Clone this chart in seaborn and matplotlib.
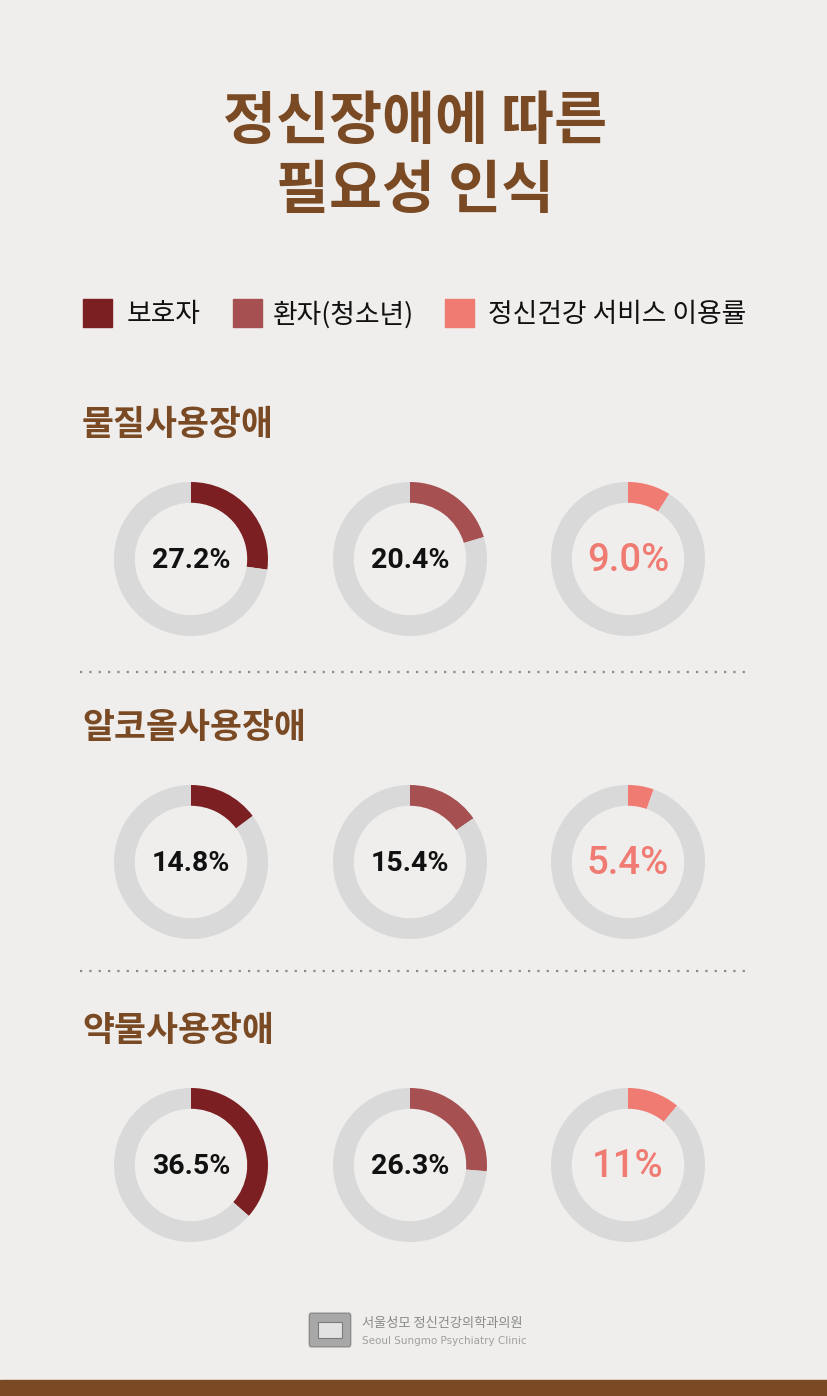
import matplotlib
matplotlib.use("Agg")
import matplotlib.pyplot as plt
import seaborn as sns
from matplotlib.patches import Rectangle, FancyBboxPatch
from matplotlib.lines import Line2D

sns.set_theme(style="white")
plt.rcParams['font.family'] = ['Noto Sans CJK KR', 'DejaVu Sans']

# ---- data ----
title_lines = ["정신장애에 따른", "필요성 인식"]
series = ["보호자", "환자(청소년)", "정신건강 서비스 이용률"]
categories = ["물질사용장애", "알코올사용장애", "약물사용장애"]
guardian = [27.2, 14.8, 36.5]
patient = [20.4, 15.4, 26.3]
service = [9.0, 5.4, 11.0]
value_labels = [["27.2%", "20.4%", "9.0%"],
                ["14.8%", "15.4%", "5.4%"],
                ["36.5%", "26.3%", "11%"]]
footer_kr = "서울성모 정신건강의학과의원"
footer_en = "Seoul Sungmo Psychiatry Clinic"

# ---- style ----
W, H = 828, 1396
BG = "#efeeec"
BROWN = "#7a4a24"
colors = ["#7b1f22", "#a65052", "#ef7b73"]
GRAY = "#d9d9d9"

fig = plt.figure(figsize=(W / 100, H / 100), dpi=100)
fig.patch.set_facecolor(BG)


def fx(x):
    return x / W


def fy(y):
    return 1 - y / H


# title
fig.text(fx(415), fy(122), title_lines[0], ha="center", va="center",
         fontsize=41.5, fontweight="bold", color=BROWN)
fig.text(fx(415), fy(191), title_lines[1], ha="center", va="center",
         fontsize=41.5, fontweight="bold", color=BROWN)

# legend
sq_x = [83, 233, 445]
txt_x = [127, 273, 488]
for i, name in enumerate(series):
    fig.patches.append(Rectangle((fx(sq_x[i]), fy(327)), 29 / W, 28 / H,
                                 transform=fig.transFigure, color=colors[i]))
    fig.text(fx(txt_x[i]), fy(315), name, ha="left", va="center",
             fontsize=19.3, color="#111111")

# sections
row_cy = [559, 862, 1165]
head_y = [424, 728, 1031]
col_cx = [191, 410, 628]
R = 77
data = [guardian, patient, service]
for r, cat in enumerate(categories):
    fig.text(fx(82), fy(head_y[r]), cat, ha="left", va="center",
             fontsize=25, fontweight="bold", color=BROWN)
    for c in range(3):
        v = data[c][r]
        cx, cy = col_cx[c], row_cy[r]
        ax = fig.add_axes([fx(cx - R), fy(cy + R), 2 * R / W, 2 * R / H])
        ax.set_facecolor("none")
        ax.pie([v, 100 - v], colors=[colors[c], GRAY], startangle=90,
               counterclock=False, radius=1,
               wedgeprops=dict(width=0.27, edgecolor="none", linewidth=0))
        ax.set_xlim(-1, 1)
        ax.set_ylim(-1, 1)
        ax.set_axis_off()
        lab = value_labels[r][c]
        if c == 2:
            ax.text(0, -0.02, lab, ha="center", va="center", fontsize=27.5,
                    fontweight="medium",
                    family=["Roboto", "DejaVu Sans"], color=colors[2])
        else:
            ax.text(0, -0.02, lab, ha="center", va="center", fontsize=20.5,
                    fontweight="bold", family=["Roboto", "DejaVu Sans"],
                    color="#111111")

# dotted separators
for y in [672, 971]:
    fig.lines.append(Line2D([fx(80), fx(750)], [fy(y), fy(y)],
                            transform=fig.transFigure, color="#8a8a8a",
                            linestyle=(0, (1, 3.2)), linewidth=1.6))

# footer logo
fig.patches.append(FancyBboxPatch((fx(311), fy(1344)), 38 / W, 28 / H,
                                  boxstyle="round,pad=0.002",
                                  transform=fig.transFigure,
                                  facecolor="#a8a8a8", edgecolor="#8d8d8d"))
fig.patches.append(Rectangle((fx(318), fy(1338)), 24 / W, 16 / H,
                             transform=fig.transFigure,
                             facecolor="#e2e2e2", edgecolor="#7a7a7a", lw=0.8))
fig.text(fx(362), fy(1324), footer_kr, ha="left", va="center",
         fontsize=9.5, color="#8a8a8a")
fig.text(fx(362), fy(1341), footer_en, ha="left", va="center",
         fontsize=7.5, color="#a0a0a0", family=["DejaVu Sans"])

# bottom bar
fig.patches.append(Rectangle((0, 0), 1, 16 / H, transform=fig.transFigure,
                             color=BROWN))

fig.savefig("out.png", dpi=100, facecolor=BG)
